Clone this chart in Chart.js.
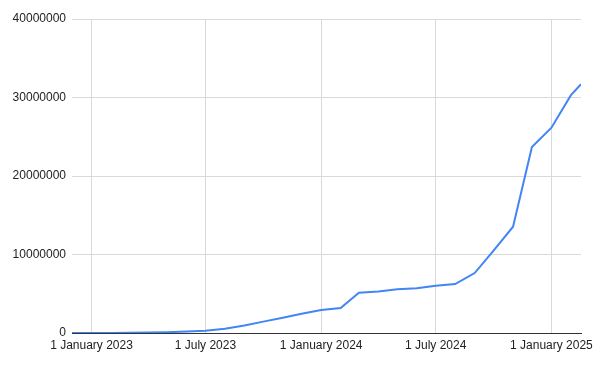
<!DOCTYPE html>
<html>
<head>
<meta charset="utf-8">
<script src="https://cdn.jsdelivr.net/npm/chart.js@4"></script>
<style>
html,body{margin:0;padding:0;background:#fff;}
#wrap{width:600px;height:368px;}
</style>
</head>
<body>
<div id="wrap"><canvas id="c" width="600" height="368"></canvas></div>
<script>
const dates = ["2022-12-01","2023-01-01","2023-02-01","2023-03-01","2023-04-01","2023-05-01","2023-06-01","2023-07-01","2023-08-01","2023-09-01","2023-10-01","2023-11-01","2023-12-01","2024-01-01","2024-02-01","2024-03-01","2024-04-01","2024-05-01","2024-06-01","2024-07-01","2024-08-01","2024-09-01","2024-10-01","2024-11-01","2024-12-01","2025-01-01","2025-02-01","2025-02-17"];
const values = [0,0,10000,20000,50000,100000,180000,300000,550000,950000,1450000,1950000,2450000,2930000,3180000,5130000,5300000,5560000,5700000,6030000,6240000,7640000,10500000,13540000,23700000,26150000,30300000,31700000];
const tickDates = ["2023-01-01","2023-07-01","2024-01-01","2024-07-01","2025-01-01"];
const yTicks = [0,10000000,20000000,30000000,40000000];
const monthNames = ["January","February","March","April","May","June","July","August","September","October","November","December"];

function toMs(s){const p=s.split("-").map(Number);return Date.UTC(p[0],p[1]-1,p[2]);}
function fmt(ms){const d=new Date(ms);return d.getUTCDate()+" "+monthNames[d.getUTCMonth()]+" "+d.getUTCFullYear();}

const points = dates.map((d,i)=>({x:toMs(d), y:values[i]}));
const tickMs = tickDates.map(toMs);

Chart.defaults.font.family = "Arial, 'Liberation Sans', sans-serif";
Chart.defaults.font.size = 12;
Chart.defaults.color = "#444";

new Chart(document.getElementById("c"), {
  type: "line",
  data: { datasets: [{ data: points, borderColor: "#4285F4", borderWidth: 2, pointRadius: 0, tension: 0, fill: false }] },
  options: {
    responsive: false,
    animation: false,
    layout: { padding: { top: 19, right: 19, left: 0, bottom: 0 } },
    plugins: { legend: { display: false }, tooltip: { enabled: false } },
    scales: {
      x: {
        type: "linear",
        min: toMs(dates[0]),
        max: toMs(dates[dates.length-1]),
        afterBuildTicks: (s) => { s.ticks = tickMs.map(v => ({ value: v })); },
        afterFit: (s) => { s.height = 35; },
        ticks: { callback: (v) => fmt(v), maxRotation: 0, autoSkip: false, padding: 5, color: "#222" },
        grid: { color: "#d9d9d9", drawTicks: false, lineWidth: 1 },
        border: { color: "#333", width: 1 }
      },
      y: {
        min: 0, max: 40000000,
        afterBuildTicks: (s) => { s.ticks = yTicks.map(v => ({ value: v })); },
        afterFit: (s) => { s.width = 72; },
        ticks: { callback: (v) => String(v), padding: 6, color: "#222" },
        grid: { color: "#d9d9d9", drawTicks: false, lineWidth: 1 },
        border: { display: false }
      }
    }
  }
});
</script>
</body>
</html>
